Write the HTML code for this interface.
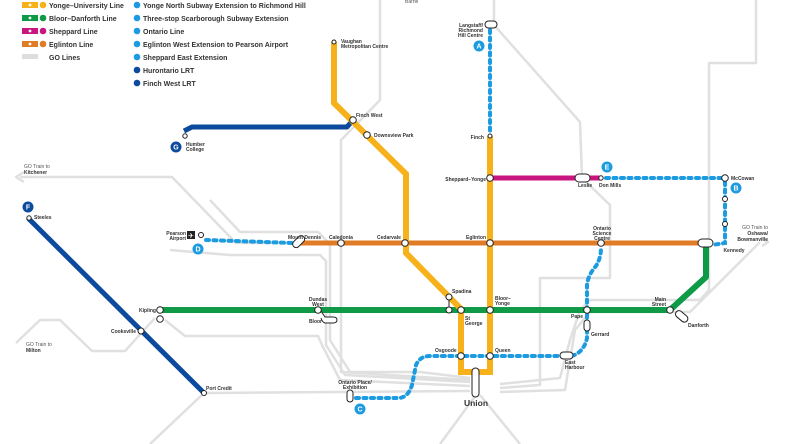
<!DOCTYPE html>
<html><head><meta charset="utf-8"><style>
html,body{margin:0;padding:0;background:#fff;}
svg{display:block;font-family:"Liberation Sans",sans-serif;}
.s{font-size:5px;font-weight:bold;fill:#333;}
.lg{font-size:7px;font-weight:bold;fill:#333;}
.go{fill:none;stroke:#e0e0e0;stroke-width:2.5;stroke-linejoin:round;}
.st{fill:#fff;stroke:#222;stroke-width:1;}
</style></head><body>
<svg width="788" height="444" viewBox="0 0 788 444" xmlns="http://www.w3.org/2000/svg">
<g class="go">
<polyline points="20,177 172,177 236,243 300,243"/>
<polyline points="24,172 16,177 24,182" />
<polyline points="210,200 240,232 318,232 330,244 330,340 350,372 420,372 470,378"/>
<polyline points="170,250 230,255 320,255 326,261 326,345 345,375 470,382"/>
<polyline points="16,343 40,320 60,320 92,351 125,351 155,318"/>
<polyline points="165,320 185,336 318,336 322,345 340,380 470,386"/>
<polyline points="204,393 470,391"/>
<polyline points="204,393 150,444"/>
<polyline points="380,0 380,100 341,140 341,372 470,380"/>
<polyline points="494,0 494,25 580,122 582,178 610,205 610,278 540,278 540,385 500,388"/>
<polyline points="756,0 756,63 709,63 709,290 700,300 590,300 580,310 570,340 560,378 500,384"/>
<polyline points="760,242 690,312 590,312 575,330 565,390 500,392"/>
<polyline points="762,238 768,242 762,246" />
<polyline points="476,395 440,444"/>
<polyline points="480,395 520,444"/>
</g>
<polyline points="184,131 192,127 347,127 353,120" fill="none" stroke="#0b4a9c" stroke-width="5" stroke-linejoin="round"/>
<line x1="28" y1="218" x2="204" y2="393" stroke="#0b4a9c" stroke-width="5"/>
<line x1="300" y1="243" x2="708" y2="243" stroke="#e07b26" stroke-width="5"/>
<line x1="490" y1="178" x2="601" y2="178" stroke="#c8157f" stroke-width="5"/>
<polyline points="160,310 670,310 706,277 706,245" fill="none" stroke="#0f9a48" stroke-width="6" stroke-linejoin="round"/>
<polyline points="334,42 334,103 406,174 406,253 461,309 461,372 490,372 490,136" fill="none" stroke="#f7b21b" stroke-width="6" stroke-linejoin="miter"/>
<g fill="none" stroke="#1d9be0" stroke-width="4" stroke-linecap="round" stroke-dasharray="3 4.5">
<line x1="490" y1="30" x2="490" y2="134"/>
<line x1="606" y1="178" x2="722" y2="178"/>
<polyline points="725,182 725,243 712,245"/>
<line x1="206" y1="240" x2="293" y2="243"/>
<path d="M356,398 L398,398 Q408,398 412,385 L416,365 Q420,356 430,356 L563,356"/>
<path d="M572,356 Q584,352 587,338 L587,285 Q588,275 596,266 Q601,258 601,248"/>
</g>
<g class="st">
<circle cx="334" cy="42" r="2" fill="#fff"/>
<circle cx="353" cy="120" r="3.3"/>
<circle cx="367" cy="135" r="3.3"/>
<circle cx="185" cy="136" r="2.2"/>
<circle cx="29" cy="218" r="2.2"/>
<circle cx="141" cy="331" r="3"/>
<circle cx="204" cy="393" r="2.5"/>
<circle cx="341" cy="243" r="3.3"/>
<circle cx="405" cy="243" r="3.3"/>
<circle cx="490" cy="243" r="3.3"/>
<circle cx="601" cy="243" r="3.3"/>
<circle cx="490" cy="178" r="3.3"/>
<circle cx="490" cy="136" r="2" />
<circle cx="601" cy="178" r="2.2"/>
<circle cx="725" cy="178" r="3.3"/>
<circle cx="725" cy="199" r="2.5"/>
<circle cx="725" cy="224" r="2.5"/>
<circle cx="201" cy="235" r="2.5"/>
<circle cx="160" cy="310" r="3.3"/>
<circle cx="160" cy="319" r="3.3"/>
<circle cx="318" cy="310" r="3.3"/>
<circle cx="449" cy="297" r="3"/>
<circle cx="449" cy="310" r="3"/>
<circle cx="461" cy="310" r="3.3"/>
<circle cx="490" cy="310" r="3.3"/>
<circle cx="587" cy="310" r="3.3"/>
<circle cx="670" cy="310" r="3.3"/>
<circle cx="461" cy="356" r="3.3"/>
<circle cx="490" cy="356" r="3.3"/>
<rect x="485" y="21" width="12" height="7" rx="3.5"/>
<rect x="575" y="174" width="15" height="8" rx="4"/>
<rect x="698" y="239" width="15" height="8" rx="4"/>
<rect x="560" y="352" width="13" height="7" rx="3.5"/>
<rect x="584" y="320" width="6" height="11" rx="3"/>
<rect x="347" y="390" width="6" height="12" rx="3"/>
<rect x="472" y="368" width="7" height="29" rx="3.5"/>
<rect x="292" y="238" width="14" height="7" rx="3.5" transform="rotate(-45 299 242)"/>
<path d="M321,311 L325,317 L333,317 Q337,317 337,320 Q337,323 333,323 L325,323 Q322,322 321,318" fill="#fff"/>
<rect x="675" y="313" width="14" height="7" rx="3.5" transform="rotate(40 682 316)"/>
<line x1="449" y1="300" x2="449" y2="307"/>
</g>
<rect x="187" y="231" width="8" height="8" fill="#222"/>
<text x="191" y="238" font-size="7" fill="#fff" text-anchor="middle">✈</text>
<g font-size="7" font-weight="bold" fill="#fff" text-anchor="middle">
<circle cx="479" cy="46" r="5.5" fill="#1d9be0"/><text x="479" y="48.5">A</text>
<circle cx="736" cy="188" r="5.5" fill="#1d9be0"/><text x="736" y="190.5">B</text>
<circle cx="360" cy="409" r="5.5" fill="#1d9be0"/><text x="360" y="411.5">C</text>
<circle cx="198" cy="249" r="5.5" fill="#1d9be0"/><text x="198" y="251.5">D</text>
<circle cx="607" cy="167" r="5.5" fill="#1d9be0"/><text x="607" y="169.5">E</text>
<circle cx="28" cy="207" r="5.5" fill="#0b4a9c"/><text x="28" y="209.5">F</text>
<circle cx="176" cy="147" r="5.5" fill="#0b4a9c"/><text x="176" y="149.5">G</text>
</g>
<g>
<rect x="22" y="2" width="16" height="6" fill="#f7b21b"/><circle cx="43" cy="5" r="3.3" fill="#f7b21b"/>
<rect x="22" y="15" width="16" height="6" fill="#0f9a48"/><circle cx="43" cy="18" r="3.3" fill="#0f9a48"/>
<rect x="22" y="28" width="16" height="6" fill="#c8157f"/><circle cx="43" cy="31" r="3.3" fill="#c8157f"/>
<rect x="22" y="41" width="16" height="6" fill="#e07b26"/><circle cx="43" cy="44" r="3.3" fill="#e07b26"/>
<rect x="22" y="54" width="16" height="5" fill="#ddd"/>
<g fill="#fff"><circle cx="30" cy="5" r="1.4"/><circle cx="30" cy="18" r="1.4"/><circle cx="30" cy="31" r="1.4"/><circle cx="30" cy="44" r="1.4"/></g>
<text class="lg" x="49" y="8">Yonge–University Line</text>
<text class="lg" x="49" y="21">Bloor–Danforth Line</text>
<text class="lg" x="49" y="34">Sheppard Line</text>
<text class="lg" x="49" y="47">Eglinton Line</text>
<text class="lg" x="49" y="60">GO Lines</text>
<g><circle cx="137" cy="5" r="3.3" fill="#1d9be0"/><circle cx="137" cy="18" r="3.3" fill="#1d9be0"/><circle cx="137" cy="31" r="3.3" fill="#1d9be0"/><circle cx="137" cy="44" r="3.3" fill="#1d9be0"/><circle cx="137" cy="57" r="3.3" fill="#1d9be0"/><circle cx="137" cy="70" r="3.3" fill="#0b4a9c"/><circle cx="137" cy="83" r="3.3" fill="#0b4a9c"/></g>
<text class="lg" x="143" y="8">Yonge North Subway Extension to Richmond Hill</text>
<text class="lg" x="143" y="21">Three-stop Scarborough Subway Extension</text>
<text class="lg" x="143" y="34">Ontario Line</text>
<text class="lg" x="143" y="47">Eglinton West Extension to Pearson Airport</text>
<text class="lg" x="143" y="60">Sheppard East Extension</text>
<text class="lg" x="143" y="73">Hurontario LRT</text>
<text class="lg" x="143" y="86">Finch West LRT</text>
</g>
<g class="s">
<text x="341" y="43">Vaughan</text><text x="341" y="48">Metropolitan Centre</text>
<text x="356" y="117">Finch West</text>
<text x="374" y="137">Downsview Park</text>
<text x="186" y="146">Humber</text><text x="186" y="151">College</text>
<text x="34" y="219">Steeles</text>
<text x="186" y="235" text-anchor="end">Pearson</text><text x="186" y="240" text-anchor="end">Airport</text>
<text x="288" y="239">Mount Dennis</text>
<text x="329" y="239">Caledonia</text>
<text x="377" y="239">Cedarvale</text>
<text x="466" y="239">Eglinton</text>
<text x="602" y="230" text-anchor="middle">Ontario</text><text x="602" y="235" text-anchor="middle">Science</text><text x="602" y="240" text-anchor="middle">Centre</text>
<text x="734" y="252" text-anchor="middle">Kennedy</text>
<text x="486" y="181" text-anchor="end">Sheppard–Yonge</text>
<text x="578" y="187">Leslie</text>
<text x="599" y="187">Don Mills</text>
<text x="731" y="180">McCowan</text>
<text x="484" y="139" text-anchor="end">Finch</text>
<text x="483" y="27" text-anchor="end">Langstaff/</text><text x="483" y="32" text-anchor="end">Richmond</text><text x="483" y="37" text-anchor="end">Hill Centre</text>
<text x="156" y="312" text-anchor="end">Kipling</text>
<text x="136" y="333" text-anchor="end">Cooksville</text>
<text x="206" y="390">Port Credit</text>
<text x="318" y="301" text-anchor="middle">Dundas</text><text x="318" y="306" text-anchor="middle">West</text>
<text x="322" y="323" text-anchor="end">Bloor</text>
<text x="452" y="293">Spadina</text>
<text x="465" y="320">St</text><text x="465" y="325">George</text>
<text x="495" y="300">Bloor–</text><text x="495" y="305">Yonge</text>
<text x="583" y="318" text-anchor="end">Pape</text>
<text x="591" y="336">Gerrard</text>
<text x="666" y="301" text-anchor="end">Main</text><text x="666" y="306" text-anchor="end">Street</text>
<text x="688" y="327">Danforth</text>
<text x="435" y="352">Osgoode</text>
<text x="495" y="352">Queen</text>
<text x="565" y="364">East</text><text x="565" y="369">Harbour</text>
<text x="355" y="384" text-anchor="middle">Ontario Place/</text><text x="355" y="389" text-anchor="middle">Exhibition</text>
<text x="476" y="406" text-anchor="middle" font-size="8.5">Union</text>
<text x="24" y="168" font-weight="normal" fill="#555">GO Train to</text><text x="24" y="174">Kitchener</text>
<text x="26" y="346" font-weight="normal" fill="#555">GO Train to</text><text x="26" y="352">Milton</text>
<text x="768" y="229" text-anchor="end" font-weight="normal" fill="#555">GO Train to</text><text x="768" y="235" text-anchor="end">Oshawa/</text><text x="768" y="241" text-anchor="end">Bowmanville</text>
<text x="405" y="3" font-weight="normal" fill="#555">Barrie</text>
</g>
</svg>
</body></html>
